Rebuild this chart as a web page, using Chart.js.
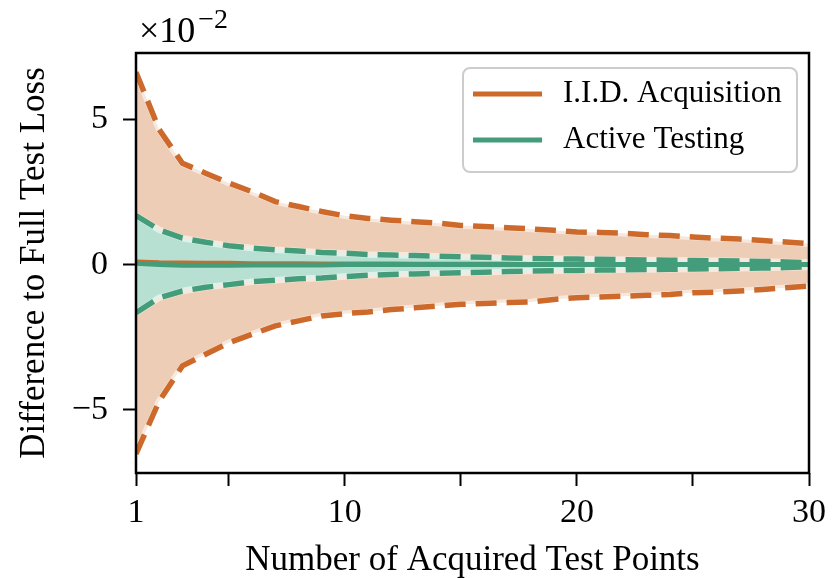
<!DOCTYPE html>
<html>
<head>
<meta charset="utf-8">
<script src="https://cdn.jsdelivr.net/npm/chart.js@4"></script>
<style>
  html, body { margin: 0; padding: 0; background: #fff; }
  #wrap { width: 833px; height: 578px; }
</style>
</head>
<body>
<div id="wrap"><canvas id="lossChart" width="833" height="578"></canvas></div>
<script>
// values, in units of 1e-2
const steps = [1, 2, 3, 4, 5, 6, 7, 8, 9, 10, 11, 12, 13, 14, 15, 16, 17, 18, 19, 20, 21, 22, 23, 24, 25, 26, 27, 28, 29, 30];

const iidUpper = [6.63, 4.65, 3.49, 3.15, 2.81, 2.51, 2.17, 2.0, 1.83, 1.68, 1.59, 1.53, 1.48, 1.43, 1.35, 1.31, 1.27, 1.23, 1.18, 1.12, 1.11, 1.08, 1.03, 1.0, 0.95, 0.91, 0.88, 0.83, 0.78, 0.72];
const iidLower = [-6.52, -4.7, -3.49, -3.09, -2.69, -2.4, -2.11, -1.94, -1.77, -1.69, -1.63, -1.55, -1.49, -1.43, -1.37, -1.34, -1.31, -1.29, -1.2, -1.14, -1.12, -1.09, -1.06, -1.03, -0.97, -0.95, -0.91, -0.86, -0.8, -0.74];
const iidMean = [0.11, 0.08, 0.07, 0.06, 0.06, 0.05, 0.05, 0.05, 0.04, 0.04, 0.04, 0.04, 0.03, 0.03, 0.03, 0.03, 0.03, 0.02, 0.02, 0.02, 0.02, 0.02, 0.02, 0.01, 0.01, 0.01, 0.01, 0.01, 0.01, 0.01];

const atUpper = [1.69, 1.2, 0.91, 0.77, 0.65, 0.57, 0.51, 0.47, 0.42, 0.39, 0.35, 0.33, 0.31, 0.29, 0.27, 0.25, 0.23, 0.21, 0.2, 0.19, 0.18, 0.17, 0.16, 0.15, 0.14, 0.13, 0.12, 0.11, 0.09, 0.07];
const atLower = [-1.66, -1.14, -0.91, -0.78, -0.69, -0.59, -0.54, -0.49, -0.46, -0.41, -0.37, -0.34, -0.32, -0.3, -0.28, -0.26, -0.24, -0.22, -0.21, -0.2, -0.19, -0.18, -0.17, -0.16, -0.15, -0.14, -0.13, -0.12, -0.1, -0.08];
const atMean = [0.05, 0.0, -0.02, -0.02, -0.02, -0.01, -0.01, -0.01, -0.01, 0, 0, 0, 0, 0, 0, 0, 0, 0, 0, 0, 0, 0, 0, 0, 0, 0, 0, 0, 0, 0];

const xTicks = [1, 5, 10, 15, 20, 25, 30];
const xLabels = [1, 10, 20, 30];
const yTicks = [-5, 0, 5];

const orange = '#cd6a2b';
const green = '#449d7a';
const orangeFill = '#edcdb6';
const greenFill = '#b8e0d2';
const halo = 'rgba(255,255,255,0.55)';
const serif = "'Liberation Serif', 'DejaVu Serif', serif";

function pts(values) {
    return steps.map(function (s, i) { return { x: s, y: values[i] }; });
}

function line(label, values, color, opts) {
    return Object.assign({
        label: label,
        data: pts(values),
        borderColor: color,
        backgroundColor: color,
        borderWidth: 5,
        pointRadius: 0,
        tension: 0,
        fill: false
    }, opts || {});
}

// frame, x10^-2 offset text and the legend box
const extrasPlugin = {
    id: 'extras',
    afterDraw: function (chart) {
        var ctx = chart.ctx;
        var a = chart.chartArea;
        ctx.save();
        ctx.strokeStyle = '#000';
        ctx.lineWidth = 2.5;
        ctx.strokeRect(a.left, a.top, a.right - a.left, a.bottom - a.top);

        ctx.fillStyle = '#000';
        ctx.textAlign = 'left';
        ctx.textBaseline = 'alphabetic';
        ctx.font = '36px ' + serif;
        ctx.fillText('×10', a.left + 3, 42);
        var w = ctx.measureText('×10').width;
        ctx.font = '28px ' + serif;
        ctx.fillText('−2', a.left + 6 + w, 28);

        // legend
        var items = chart.data.datasets.filter(function (d) { return d.inLegend; });
        var bx = 463, by = 68, bw = 334, bh = 104;
        ctx.beginPath();
        ctx.roundRect(bx, by, bw, bh, 7);
        ctx.fillStyle = 'rgba(255,255,255,0.85)';
        ctx.fill();
        ctx.strokeStyle = '#cccccc';
        ctx.lineWidth = 2;
        ctx.stroke();
        ctx.font = '31px ' + serif;
        ctx.textBaseline = 'middle';
        items.forEach(function (d, i) {
            var y = 94 + i * 46;
            ctx.strokeStyle = d.borderColor;
            ctx.lineWidth = 5;
            ctx.beginPath();
            ctx.moveTo(473, y);
            ctx.lineTo(542, y);
            ctx.stroke();
            ctx.fillStyle = '#000';
            ctx.fillText(d.label, 563, y);
        });
        ctx.restore();
    }
};

document.addEventListener('DOMContentLoaded', function () {
    var ctx = document.getElementById('lossChart').getContext('2d');

    var dash = [21, 10];
    var datasets = [
        // shaded bands
        line('I.I.D. upper', iidUpper, orange, { borderDash: dash, borderWidth: 5.5, fill: '+1', backgroundColor: orangeFill, order: 6 }),
        line('I.I.D. lower', iidLower, orange, { borderDash: dash, borderWidth: 5.5, order: 6 }),
        line('AT upper', atUpper, green, { borderDash: dash, borderWidth: 5.5, fill: '+1', backgroundColor: greenFill, order: 4 }),
        line('AT lower', atLower, green, { borderDash: dash, borderWidth: 5.5, order: 4 }),
        // light halos under the dashed bounds
        line('halo1', iidUpper, halo, { borderWidth: 6.5, order: 7 }),
        line('halo2', iidLower, halo, { borderWidth: 6.5, order: 7 }),
        line('halo3', atUpper, halo, { borderWidth: 6.5, order: 5 }),
        line('halo4', atLower, halo, { borderWidth: 6.5, order: 5 }),
        // means
        line('I.I.D. Acquisition', iidMean, orange, { borderWidth: 4, order: 2, inLegend: true }),
        line('Active Testing', atMean, green, { order: 1, inLegend: true })
    ];

    new Chart(ctx, {
        type: 'line',
        data: { datasets: datasets },
        options: {
            responsive: false,
            animation: false,
            devicePixelRatio: 1,
            layout: { padding: { top: 53, right: 22, left: 0, bottom: 0 } },
            plugins: {
                legend: { display: false },
                tooltip: { enabled: false },
                filler: { drawTime: 'beforeDatasetsDraw' }
            },
            scales: {
                x: {
                    type: 'linear',
                    min: 1,
                    max: 30,
                    afterFit: function (scale) { scale.height = 105; },
                    afterBuildTicks: function (scale) {
                        scale.ticks = xTicks.map(function (v) { return { value: v }; });
                    },
                    border: { display: false },
                    grid: { drawOnChartArea: false, tickLength: 13, tickWidth: 2, tickColor: '#000' },
                    ticks: {
                        color: '#000',
                        padding: 7,
                        maxRotation: 0,
                        autoSkip: false,
                        font: { family: serif, size: 34 },
                        callback: function (v) { return xLabels.indexOf(v) >= 0 ? String(v) : ''; }
                    },
                    title: {
                        display: true,
                        text: 'Number of Acquired Test Points',
                        color: '#000',
                        font: { family: serif, size: 35, lineHeight: 1 },
                        padding: { top: 0, bottom: 0 }
                    }
                },
                y: {
                    min: -7.18,
                    max: 7.29,
                    afterFit: function (scale) { scale.width = 136; },
                    afterBuildTicks: function (scale) {
                        scale.ticks = yTicks.map(function (v) { return { value: v }; });
                    },
                    border: { display: false },
                    grid: { drawOnChartArea: false, tickLength: 13, tickWidth: 2, tickColor: '#000' },
                    ticks: {
                        color: '#000',
                        padding: 15,
                        font: { family: serif, size: 34 },
                        callback: function (v) { return v < 0 ? '−' + Math.abs(v) : String(v); }
                    },
                    title: {
                        display: true,
                        text: 'Difference to Full Test Loss',
                        color: '#000',
                        font: { family: serif, size: 35, lineHeight: 1 },
                        padding: { top: 17, bottom: 0 }
                    }
                }
            }
        },
        plugins: [extrasPlugin]
    });
});
</script>
</body>
</html>
